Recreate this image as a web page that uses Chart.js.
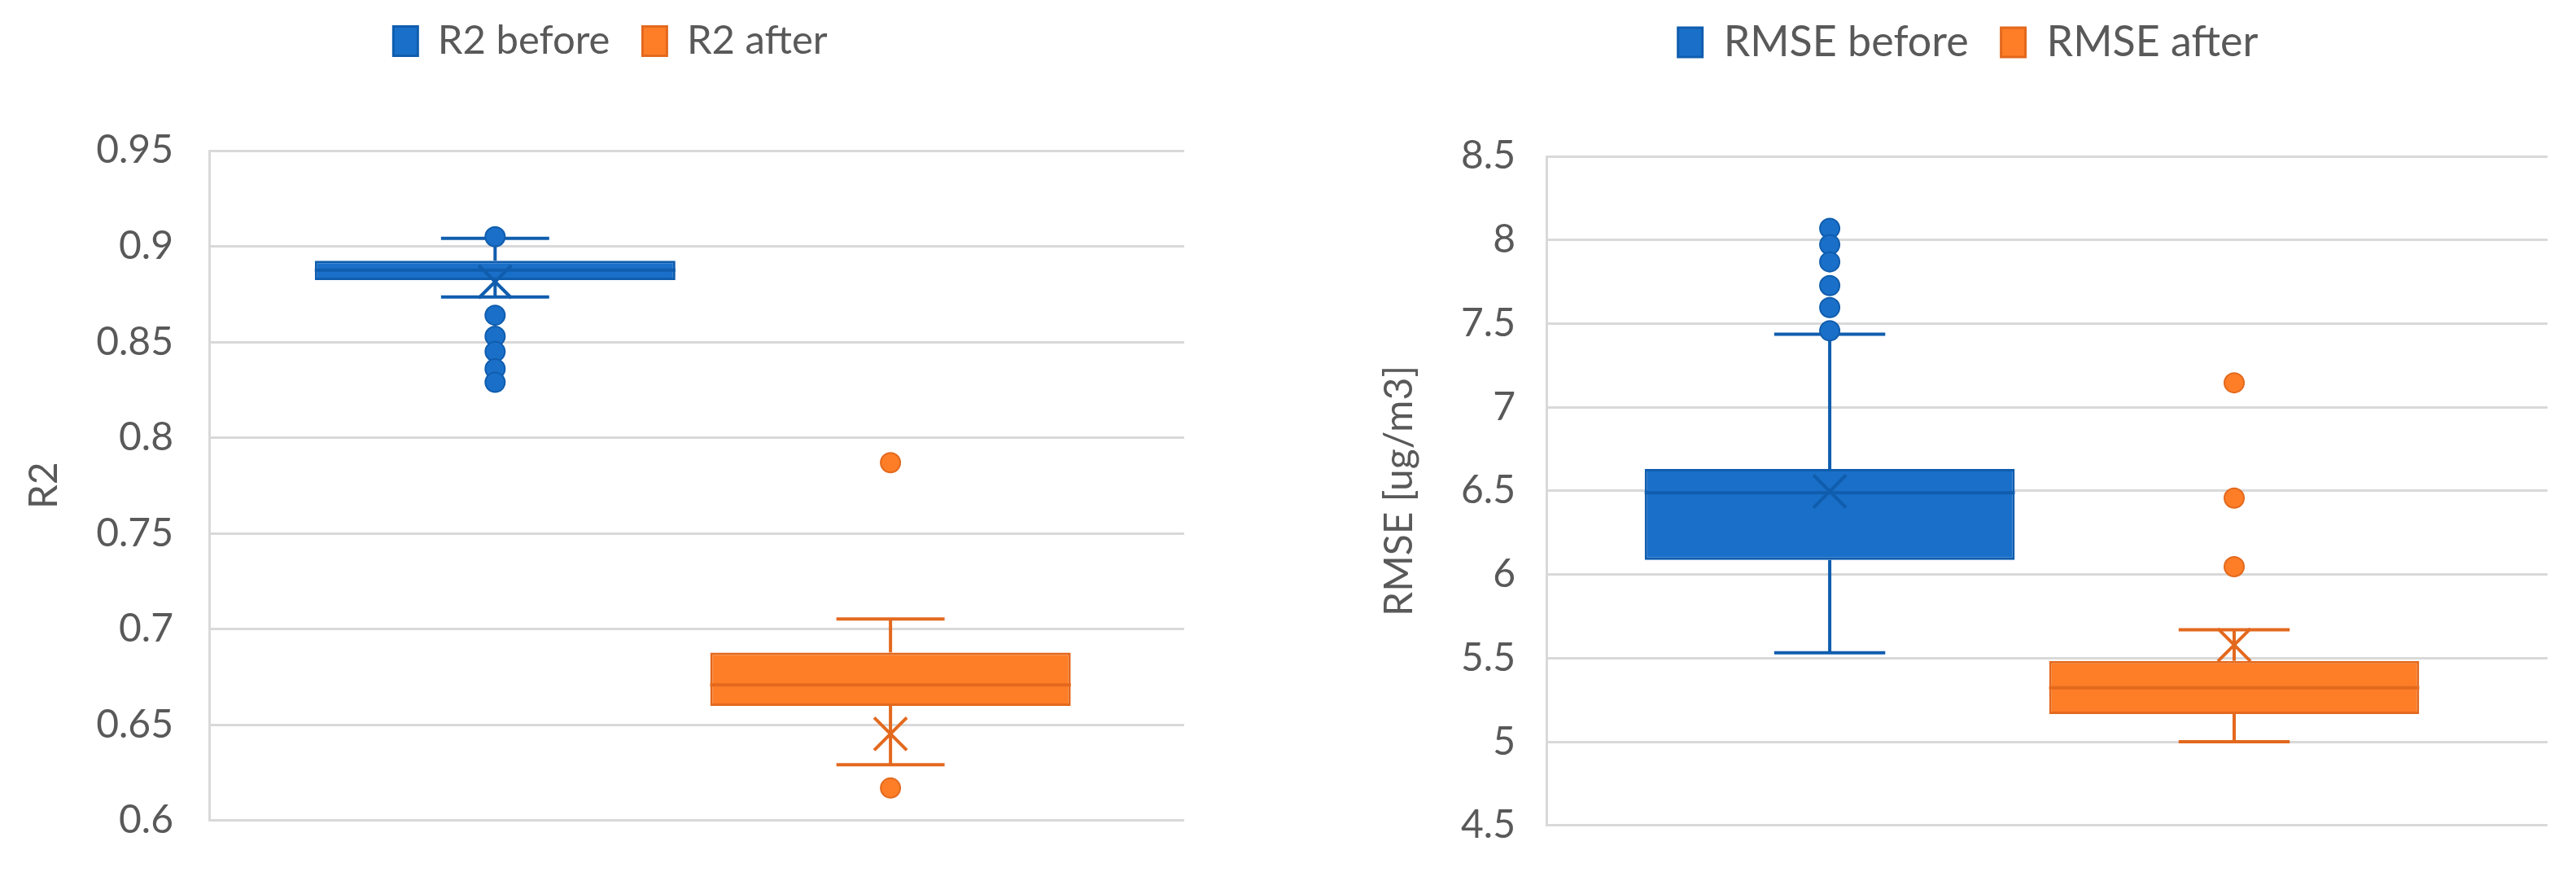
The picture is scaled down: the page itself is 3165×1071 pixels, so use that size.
<!DOCTYPE html>
<html>
<head>
<meta charset="utf-8">
<script src="https://cdn.jsdelivr.net/npm/chart.js@4.4.1/dist/chart.umd.min.js"></script>
<style>
html, body { margin: 0; padding: 0; background: #ffffff; }
#wrap { position: relative; width: 3165px; height: 1071px; overflow: hidden; }
#c1 { position: absolute; left: 0; top: 0; }
#c2 { position: absolute; left: 1580px; top: 0; }
</style>
</head>
<body>
<div id="wrap">
  <canvas id="c1" width="1580" height="1071"></canvas>
  <canvas id="c2" width="1585" height="1071"></canvas>
</div>
<script>
// ---------- DATA ----------
const categories = [''];

// R2 chart
const r2Series = ['R2 before', 'R2 after'];
const r2WhiskerLow = [0.8735, 0.6292];
const r2Q1 = [0.8824, 0.6599];
const r2Median = [0.8876, 0.6708];
const r2Q3 = [0.8925, 0.6878];
const r2WhiskerHigh = [0.9042, 0.7053];
const r2Mean = [0.8815, 0.6453];
const r2Outliers = [[0.905, 0.864, 0.853, 0.845, 0.836, 0.829], [0.787, 0.617]];
const r2Ticks = [0.6, 0.65, 0.7, 0.75, 0.8, 0.85, 0.9, 0.95];
const r2TickLabels = ['0.6', '0.65', '0.7', '0.75', '0.8', '0.85', '0.9', '0.95'];
const r2AxisTitle = 'R2';

// RMSE chart
const rmseSeries = ['RMSE before', 'RMSE after'];
const rmseWhiskerLow = [5.532, 5.0];
const rmseQ1 = [6.087, 5.166];
const rmseMedian = [6.489, 5.323];
const rmseQ3 = [6.631, 5.484];
const rmseWhiskerHigh = [7.437, 5.670];
const rmseMean = [6.497, 5.579];
const rmseOutliers = [[8.069, 7.972, 7.869, 7.727, 7.596, 7.457], [7.146, 6.457, 6.047]];
const rmseTicks = [4.5, 5, 5.5, 6, 6.5, 7, 7.5, 8, 8.5];
const rmseTickLabels = ['4.5', '5', '5.5', '6', '6.5', '7', '7.5', '8', '8.5'];
const rmseAxisTitle = 'RMSE [ug/m3]';

// ---------- STYLE ----------
const fillColors = ['#1A70C8', '#FD7E27'];
const borderColors = ['#105DAE', '#E3691E'];
const gridColor = '#D9D9D9';
const textColor = '#595959';
const fontFamily = 'Lato, "Open Sans", sans-serif';

function makeBoxPlugin(stats) {
  return {
    id: 'boxExtras',
    afterDatasetsDraw(chart) {
      const ctx = chart.ctx;
      const ys = chart.scales.y;
      stats.low.forEach((_, i) => {
        const bar = chart.getDatasetMeta(i).data[0];
        const p = bar.getProps(['x', 'width'], true);
        const x = p.x, w = p.width;
        const yLo = ys.getPixelForValue(stats.low[i]);
        const yQ1 = ys.getPixelForValue(stats.q1[i]);
        const yMed = ys.getPixelForValue(stats.median[i]);
        const yQ3 = ys.getPixelForValue(stats.q3[i]);
        const yHi = ys.getPixelForValue(stats.high[i]);
        const yMean = ys.getPixelForValue(stats.mean[i]);
        const col = borderColors[i];
        const capHalf = w * 0.15;
        ctx.save();
        ctx.strokeStyle = col;
        ctx.lineCap = 'butt';
        const line = (x1, y1, x2, y2, lw) => {
          ctx.lineWidth = lw;
          ctx.beginPath(); ctx.moveTo(x1, y1); ctx.lineTo(x2, y2); ctx.stroke();
        };
        // whiskers
        line(x, yQ3, x, yHi, 4);
        line(x, yQ1, x, yLo, 4);
        line(x - capHalf, yHi, x + capHalf, yHi, 4);
        line(x - capHalf, yLo, x + capHalf, yLo, 4);
        // median
        line(x - w / 2, yMed, x + w / 2, yMed, 4);
        // mean marker (X)
        const s = 20;
        line(x - s, yMean - s, x + s, yMean + s, 4);
        line(x - s, yMean + s, x + s, yMean - s, 4);
        // outliers
        stats.outliers[i].forEach(v => {
          const yy = ys.getPixelForValue(v);
          ctx.beginPath();
          ctx.arc(x, yy, 12, 0, Math.PI * 2);
          ctx.fillStyle = fillColors[i];
          ctx.fill();
          ctx.lineWidth = 2;
          ctx.strokeStyle = col;
          ctx.stroke();
        });
        ctx.restore();
      });
    }
  };
}

function makeChart(canvasId, cfg) {
  const datasets = cfg.series.map((name, i) => ({
    label: name,
    data: [[cfg.q1[i], cfg.q3[i]]],
    backgroundColor: fillColors[i],
    borderColor: borderColors[i],
    borderWidth: 3,
    borderSkipped: false,
    categoryPercentage: cfg.catPct,
    barPercentage: cfg.barPct
  }));
  return new Chart(document.getElementById(canvasId), {
    type: 'bar',
    data: { labels: categories, datasets },
    options: {
      responsive: false,
      animation: false,
      devicePixelRatio: 1,
      layout: { padding: cfg.padding },
      plugins: {
        tooltip: { enabled: false },
        legend: {
          position: 'top',
          labels: {
            boxWidth: 30,
            boxHeight: 36,
            padding: cfg.legendPad,
            color: textColor,
            font: { family: fontFamily, size: cfg.legendFont }
          }
        }
      },
      scales: {
        x: {
          position: 'top',
          ticks: { display: false },
          grid: { display: false },
          border: { display: false },
          afterBuildTicks: s => {
            if (typeof s._startValue === 'number') { s._startValue += cfg.xShift; }
          },
          afterFit: s => { s.height = cfg.xGap; }
        },
        y: {
          min: cfg.ticks[0],
          max: cfg.ticks[cfg.ticks.length - 1],
          afterBuildTicks: s => { s.ticks = cfg.ticks.map(v => ({ value: v })); },
          ticks: {
            callback: (v, idx) => cfg.tickLabels[idx],
            color: textColor,
            font: { family: fontFamily, size: 48, lineHeight: 0.8 },
            padding: cfg.tickPad
          },
          grid: { color: gridColor, lineWidth: 3, drawTicks: false },
          border: { display: true, color: gridColor, width: 3 },
          title: {
            display: true,
            text: cfg.title,
            color: textColor,
            font: { family: fontFamily, size: 48 },
            padding: { top: cfg.titlePad, bottom: 0 }
          },
          afterFit: s => { s.width = cfg.yWidth; }
        }
      }
    },
    plugins: [makeBoxPlugin({
      low: cfg.low, q1: cfg.q1, median: cfg.median, q3: cfg.q3,
      high: cfg.high, mean: cfg.mean, outliers: cfg.outliers
    })]
  });
}

makeChart('c1', {
  series: r2Series, low: r2WhiskerLow, q1: r2Q1, median: r2Median, q3: r2Q3,
  high: r2WhiskerHigh, mean: r2Mean, outliers: r2Outliers,
  ticks: r2Ticks, tickLabels: r2TickLabels, title: r2AxisTitle,
  catPct: 0.811, barPct: 0.912, xShift: 0.004,
  padding: { left: 45, right: 125, top: -14, bottom: 52 },
  xGap: 100, yWidth: 212, tickPad: 44, titlePad: -19,
  legendPad: 40, legendFont: 49
});

makeChart('c2', {
  series: rmseSeries, low: rmseWhiskerLow, q1: rmseQ1, median: rmseMedian, q3: rmseQ3,
  high: rmseWhiskerHigh, mean: rmseMean, outliers: rmseOutliers,
  ticks: rmseTicks, tickLabels: rmseTickLabels, title: rmseAxisTitle,
  catPct: 0.808, barPct: 0.915, xShift: 0.015,
  padding: { left: 126, right: 35, top: -14, bottom: 35 },
  xGap: 104, yWidth: 194, tickPad: 38, titlePad: -15,
  legendPad: 40, legendFont: 52
});
</script>
</body>
</html>
